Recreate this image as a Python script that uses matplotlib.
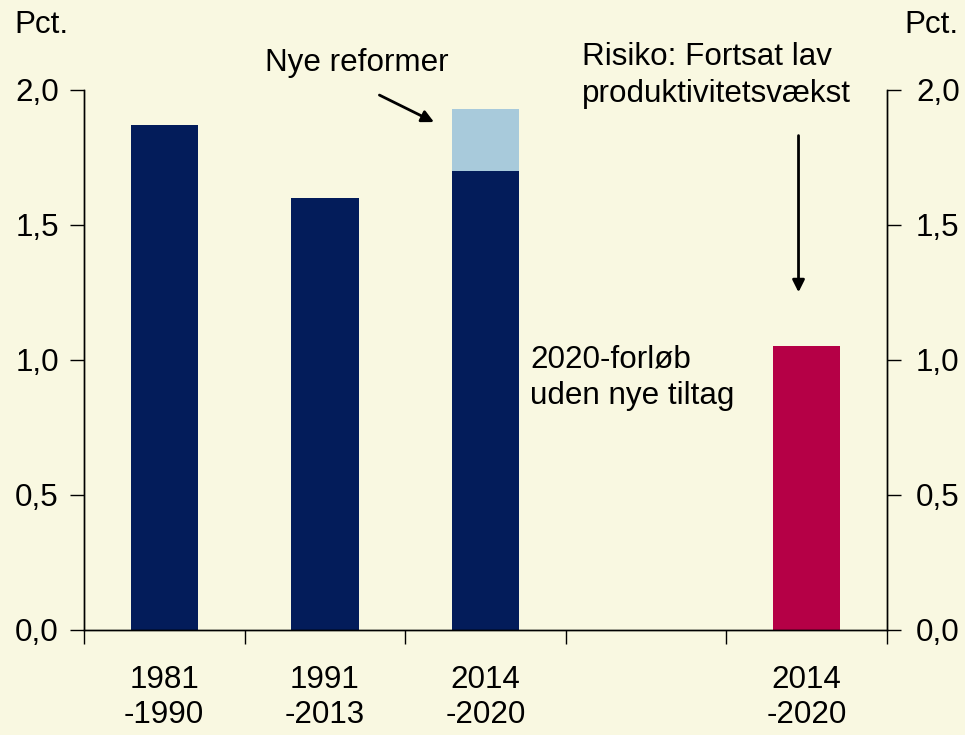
import matplotlib.pyplot as plt

plt.rcParams['font.family'] = ['Liberation Sans', 'DejaVu Sans']

# data
periods = ["1981\n-1990", "1991\n-2013", "2014\n-2020", "", "2014\n-2020"]
base = [1.87, 1.60, 1.70, 0, 0]
reforms = [0, 0, 0.23, 0, 0]
risk = [0, 0, 0, 0, 1.05]
y_ticks = [0.0, 0.5, 1.0, 1.5, 2.0]
y_labels = ["0,0", "0,5", "1,0", "1,5", "2,0"]

bg = '#F9F8E1'
navy = '#031C5A'
light = '#A8CADB'
crimson = '#B50046'
fs = 22.6

fig = plt.figure(figsize=(9.65, 7.35), dpi=100, facecolor=bg)
ax = fig.add_axes([0.087, 0.143, 0.832, 0.735], facecolor=bg)

pos = [i + 0.5 for i in range(len(periods))]
ax.bar(pos, base, width=0.42, color=navy)
ax.bar(pos, reforms, bottom=base, width=0.42, color=light)
ax.bar(pos, risk, width=0.42, color=crimson)

ax.set_xlim(0, len(periods))
ax.set_ylim(0, 2.0)
ax.set_xticks(range(len(periods) + 1))
ax.set_xticklabels([])
ax.set_xticks(pos, periods, minor=True)
ax.tick_params(axis='x', which='major', direction='out', length=10, width=1)
ax.tick_params(axis='x', which='minor', length=0, pad=25, labelsize=fs)
for t in ax.get_xticklabels(minor=True):
    t.set_linespacing(1.22)

ax.set_yticks(y_ticks, y_labels)
ax.tick_params(axis='y', direction='out', length=10, width=1, pad=8, labelsize=fs)

ax2 = ax.twinx()
ax2.set_ylim(0, 2.0)
ax2.set_yticks(y_ticks, y_labels)
ax2.tick_params(axis='y', direction='out', length=10, width=1, pad=11, labelsize=fs)

for a in (ax, ax2):
    a.spines['top'].set_visible(False)
    for s in a.spines.values():
        s.set_linewidth(1)

fig.text(0.015, 0.966, "Pct.", fontsize=fs, va='center', ha='left')
fig.text(0.993, 0.966, "Pct.", fontsize=fs, va='center', ha='right')

ax.text(1.13, 2.10, "Nye reformer", fontsize=fs, va='center', ha='left', clip_on=False)
ax.annotate("", xy=(2.18, 1.88), xytext=(1.84, 1.98), annotation_clip=False,
            arrowprops=dict(arrowstyle='-|>', color='black', lw=2, mutation_scale=18,
                            shrinkA=0, shrinkB=0))
ax.text(3.10, 2.052, "Risiko: Fortsat lav\nproduktivitetsvækst", fontsize=fs,
        va='center', ha='left', linespacing=1.28, clip_on=False)
ax.annotate("", xy=(4.45, 1.25), xytext=(4.45, 1.83), annotation_clip=False,
            arrowprops=dict(arrowstyle='-|>', color='black', lw=2, mutation_scale=18,
                            shrinkA=0, shrinkB=0))
ax.text(2.78, 0.935, "2020-forløb\nuden nye tiltag", fontsize=fs,
        va='center', ha='left', linespacing=1.28)

fig.savefig("out.png", dpi=100, facecolor=bg)
